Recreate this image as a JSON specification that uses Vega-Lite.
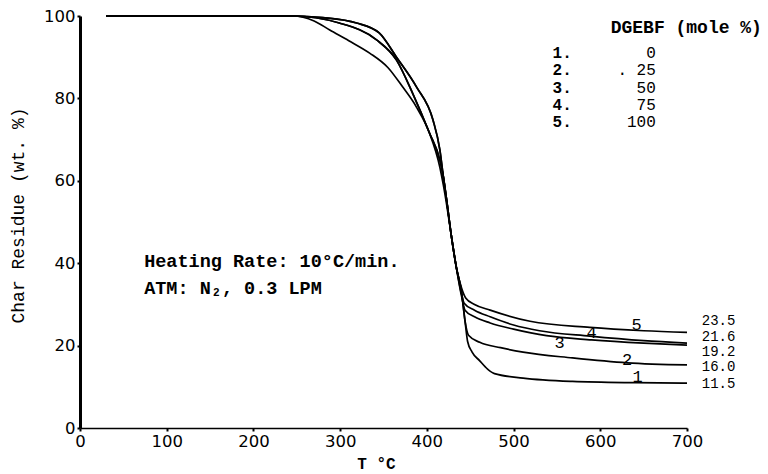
{
  "$schema": "https://vega.github.io/schema/vega-lite/v6.json",
  "autosize": "none",
  "width": 607,
  "height": 412,
  "padding": {"left": 80, "top": 16, "right": 81, "bottom": 46},
  "background": "white",
  "config": {"view": {"stroke": null}},
  "datasets": {
    "curves": [
      {"s": 1, "T": 30, "v": 100}, {"s": 1, "T": 245, "v": 100}, {"s": 1, "T": 280, "v": 99.6}, {"s": 1, "T": 319, "v": 98.3}, {"s": 1, "T": 345, "v": 95.9}, {"s": 1, "T": 365, "v": 90}, {"s": 1, "T": 388, "v": 82.8}, {"s": 1, "T": 407, "v": 74.8}, {"s": 1, "T": 415, "v": 67.5}, {"s": 1, "T": 419, "v": 61}, {"s": 1, "T": 423, "v": 55}, {"s": 1, "T": 428, "v": 47}, {"s": 1, "T": 434, "v": 39}, {"s": 1, "T": 440, "v": 33}, {"s": 1, "T": 444, "v": 26}, {"s": 1, "T": 447, "v": 21}, {"s": 1, "T": 452, "v": 18.5}, {"s": 1, "T": 461, "v": 16.3}, {"s": 1, "T": 470, "v": 14.3}, {"s": 1, "T": 478, "v": 13.2}, {"s": 1, "T": 511, "v": 12.1}, {"s": 1, "T": 568, "v": 11.3}, {"s": 1, "T": 640, "v": 11.0}, {"s": 1, "T": 700, "v": 10.9},
      {"s": 2, "T": 30, "v": 100}, {"s": 2, "T": 245, "v": 100}, {"s": 2, "T": 280, "v": 99.6}, {"s": 2, "T": 319, "v": 98.3}, {"s": 2, "T": 345, "v": 95.9}, {"s": 2, "T": 365, "v": 90}, {"s": 2, "T": 388, "v": 82.8}, {"s": 2, "T": 407, "v": 74.8}, {"s": 2, "T": 415, "v": 67.5}, {"s": 2, "T": 419, "v": 61}, {"s": 2, "T": 423, "v": 55}, {"s": 2, "T": 428, "v": 47}, {"s": 2, "T": 434, "v": 39}, {"s": 2, "T": 440, "v": 33}, {"s": 2, "T": 444, "v": 26}, {"s": 2, "T": 448, "v": 22.5}, {"s": 2, "T": 461, "v": 20.8}, {"s": 2, "T": 485, "v": 19.5}, {"s": 2, "T": 511, "v": 18.4}, {"s": 2, "T": 568, "v": 17}, {"s": 2, "T": 631, "v": 15.8}, {"s": 2, "T": 700, "v": 15.3},
      {"s": 3, "T": 30, "v": 100}, {"s": 3, "T": 245, "v": 100}, {"s": 3, "T": 299, "v": 98.3}, {"s": 3, "T": 342, "v": 94.2}, {"s": 3, "T": 365, "v": 89.3}, {"s": 3, "T": 383.5, "v": 81.3}, {"s": 3, "T": 403, "v": 71.6}, {"s": 3, "T": 415, "v": 65}, {"s": 3, "T": 419, "v": 61}, {"s": 3, "T": 423, "v": 55}, {"s": 3, "T": 428, "v": 47}, {"s": 3, "T": 434, "v": 39}, {"s": 3, "T": 440, "v": 32}, {"s": 3, "T": 444, "v": 28.6}, {"s": 3, "T": 455, "v": 27}, {"s": 3, "T": 473, "v": 25.5}, {"s": 3, "T": 500, "v": 24}, {"s": 3, "T": 538, "v": 22.4}, {"s": 3, "T": 590, "v": 21.4}, {"s": 3, "T": 650, "v": 20.6}, {"s": 3, "T": 700, "v": 20.1},
      {"s": 4, "T": 30, "v": 100}, {"s": 4, "T": 245, "v": 100}, {"s": 4, "T": 299, "v": 98.3}, {"s": 4, "T": 342, "v": 94.2}, {"s": 4, "T": 365, "v": 89.3}, {"s": 4, "T": 383.5, "v": 81.3}, {"s": 4, "T": 403, "v": 71.6}, {"s": 4, "T": 415, "v": 65}, {"s": 4, "T": 419, "v": 61}, {"s": 4, "T": 423, "v": 55}, {"s": 4, "T": 428, "v": 47}, {"s": 4, "T": 434, "v": 39}, {"s": 4, "T": 440, "v": 32.5}, {"s": 4, "T": 443, "v": 30.3}, {"s": 4, "T": 455, "v": 28.6}, {"s": 4, "T": 473, "v": 27}, {"s": 4, "T": 500, "v": 25}, {"s": 4, "T": 530, "v": 23.6}, {"s": 4, "T": 588, "v": 22.3}, {"s": 4, "T": 650, "v": 21.2}, {"s": 4, "T": 700, "v": 20.6},
      {"s": 5, "T": 30, "v": 100}, {"s": 5, "T": 245, "v": 100}, {"s": 5, "T": 270, "v": 98.8}, {"s": 5, "T": 288, "v": 96.6}, {"s": 5, "T": 310, "v": 94}, {"s": 5, "T": 334, "v": 91}, {"s": 5, "T": 355, "v": 87.5}, {"s": 5, "T": 372, "v": 82.8}, {"s": 5, "T": 388, "v": 77.9}, {"s": 5, "T": 403, "v": 71.6}, {"s": 5, "T": 415, "v": 63.3}, {"s": 5, "T": 419, "v": 59}, {"s": 5, "T": 423, "v": 54}, {"s": 5, "T": 428, "v": 47}, {"s": 5, "T": 434, "v": 39}, {"s": 5, "T": 440, "v": 34}, {"s": 5, "T": 445, "v": 31.5}, {"s": 5, "T": 455, "v": 30}, {"s": 5, "T": 473, "v": 28.6}, {"s": 5, "T": 519, "v": 25.9}, {"s": 5, "T": 588, "v": 24.4}, {"s": 5, "T": 650, "v": 23.6}, {"s": 5, "T": 700, "v": 23.2}
    ],
    "endLabels": [
      {"t": "23.5", "T": 717, "v": 25.9},
      {"t": "21.6", "T": 717, "v": 22.1},
      {"t": "19.2", "T": 717, "v": 18.5},
      {"t": "16.0", "T": 717, "v": 14.8},
      {"t": "11.5", "T": 717, "v": 10.6}
    ],
    "curveNums": [
      {"t": "5", "T": 642, "v": 25},
      {"t": "4", "T": 590, "v": 23},
      {"t": "3", "T": 553, "v": 20.6},
      {"t": "2", "T": 631, "v": 16.5},
      {"t": "1", "T": 643, "v": 12.4}
    ],
    "legendHead": [
      {"t": "DGEBF (mole %)", "T": 612, "v": 97.1}
    ],
    "legendIdx": [
      {"t": "1.", "T": 545, "v": 91.0},
      {"t": "2.", "T": 545, "v": 86.8},
      {"t": "3.", "T": 545, "v": 82.6},
      {"t": "4.", "T": 545, "v": 78.4},
      {"t": "5.", "T": 545, "v": 74.2}
    ],
    "legendVal": [
      {"t": "0", "T": 664, "v": 91.0},
      {"t": ". 25", "T": 664, "v": 86.8},
      {"t": "50", "T": 664, "v": 82.6},
      {"t": "75", "T": 664, "v": 78.4},
      {"t": "100", "T": 664, "v": 74.2}
    ],
    "notes": [
      {"t": "Heating Rate: 10°C/min.", "T": 74, "v": 40.5},
      {"t": "ATM: N₂, 0.3 LPM", "T": 74, "v": 34}
    ]
  },
  "layer": [
    {
      "data": {"name": "curves"},
      "mark": {"type": "line", "color": "black", "strokeWidth": 1.7, "interpolate": "monotone"},
      "encoding": {
        "x": {
          "field": "T", "type": "quantitative",
          "scale": {"domain": [0, 700], "nice": false, "zero": true},
          "axis": {
            "values": [0, 100, 200, 300, 400, 500, 600, 700],
            "title": "T °C",
            "titleFont": "Liberation Mono", "titleFontSize": 16, "titleFontWeight": "bold",
            "titleX": 296, "titleY": 35, "titleBaseline": "middle", "titleAnchor": null, "titleAlign": "center",
            "labelFont": "DejaVu Sans", "labelFontSize": 16.5, "labelColor": "black", "labelPadding": 2,
            "tickSize": 3, "tickWidth": 2, "tickColor": "black",
            "domainColor": "black", "domainWidth": 1.5, "grid": false, "labelFlush": false
          }
        },
        "y": {
          "field": "v", "type": "quantitative",
          "scale": {"domain": [0, 100], "nice": false},
          "axis": {
            "values": [0, 20, 40, 60, 80, 100],
            "title": "Char Residue (wt. %)",
            "titleFont": "Liberation Mono", "titleFontSize": 18, "titleFontWeight": "normal",
            "titleX": -62, "titleY": 199, "titleAngle": -90, "titleBaseline": "middle", "titleAlign": "center", "titleAnchor": null,
            "labelFont": "DejaVu Sans", "labelFontSize": 16.5, "labelColor": "black", "labelPadding": 2,
            "tickSize": 3, "tickWidth": 2, "tickColor": "black",
            "domainColor": "black", "domainWidth": 3, "grid": false, "labelFlush": false
          }
        },
        "detail": {"field": "s", "type": "nominal"}
      }
    },
    {
      "data": {"name": "endLabels"},
      "mark": {"type": "text", "align": "left", "baseline": "middle", "font": "Liberation Mono", "fontSize": 14, "color": "black"},
      "encoding": {"x": {"field": "T", "type": "quantitative"}, "y": {"field": "v", "type": "quantitative"}, "text": {"field": "t"}}
    },
    {
      "data": {"name": "curveNums"},
      "mark": {"type": "text", "align": "center", "baseline": "middle", "font": "Liberation Mono", "fontSize": 17, "color": "black"},
      "encoding": {"x": {"field": "T", "type": "quantitative"}, "y": {"field": "v", "type": "quantitative"}, "text": {"field": "t"}}
    },
    {
      "data": {"name": "legendHead"},
      "mark": {"type": "text", "align": "left", "baseline": "middle", "font": "Liberation Mono", "fontSize": 18, "fontWeight": "bold", "color": "black"},
      "encoding": {"x": {"field": "T", "type": "quantitative"}, "y": {"field": "v", "type": "quantitative"}, "text": {"field": "t"}}
    },
    {
      "data": {"name": "legendIdx"},
      "mark": {"type": "text", "align": "left", "baseline": "middle", "font": "Liberation Mono", "fontSize": 16, "fontWeight": "bold", "color": "black"},
      "encoding": {"x": {"field": "T", "type": "quantitative"}, "y": {"field": "v", "type": "quantitative"}, "text": {"field": "t"}}
    },
    {
      "data": {"name": "legendVal"},
      "mark": {"type": "text", "align": "right", "baseline": "middle", "font": "Liberation Mono", "fontSize": 16, "color": "black"},
      "encoding": {"x": {"field": "T", "type": "quantitative"}, "y": {"field": "v", "type": "quantitative"}, "text": {"field": "t"}}
    },
    {
      "data": {"name": "notes"},
      "mark": {"type": "text", "align": "left", "baseline": "middle", "font": "Liberation Mono", "fontSize": 18.5, "fontWeight": "bold", "color": "black"},
      "encoding": {"x": {"field": "T", "type": "quantitative"}, "y": {"field": "v", "type": "quantitative"}, "text": {"field": "t"}}
    }
  ]
}
